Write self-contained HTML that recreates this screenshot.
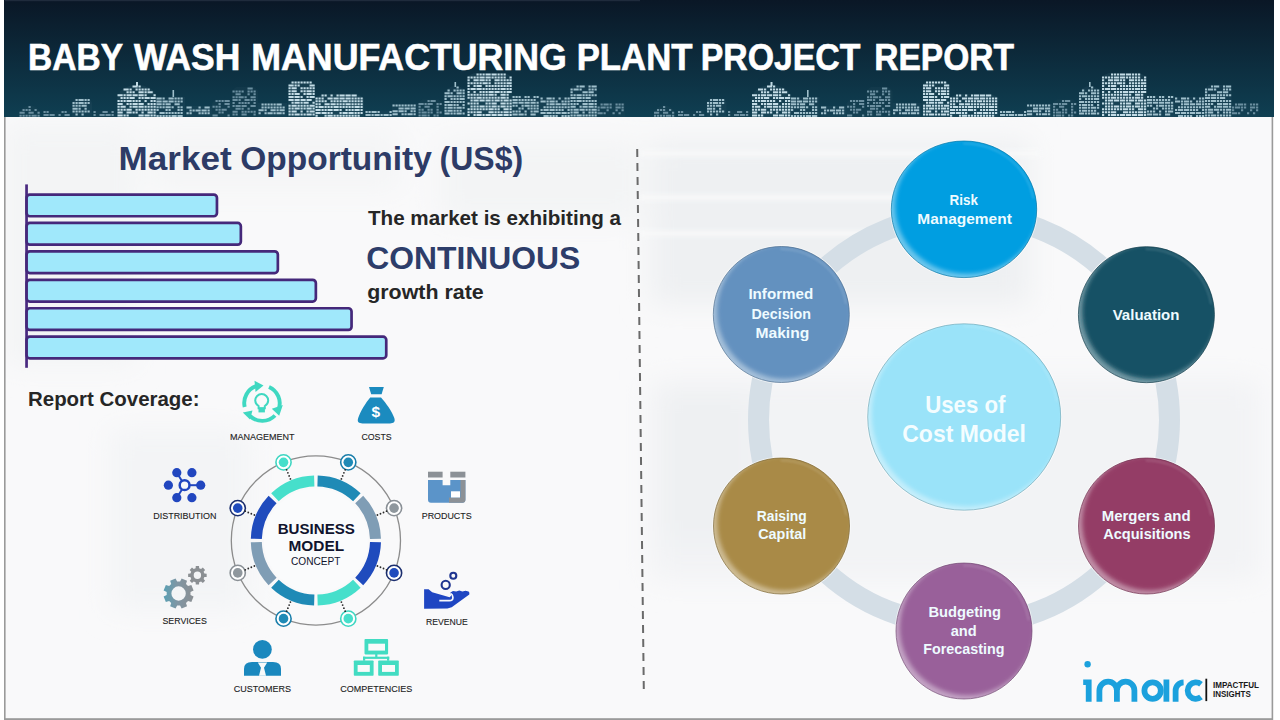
<!DOCTYPE html>
<html><head><meta charset="utf-8">
<style>
html,body{margin:0;padding:0;width:1280px;height:720px;overflow:hidden;background:#fff;}
svg{position:absolute;left:0;top:0;display:block;}
text{font-family:"Liberation Sans",sans-serif;}
</style></head>
<body>
<svg width="1280" height="720" viewBox="0 0 1280 720">
<defs>
  <filter id="blur2" x="-20%" y="-20%" width="140%" height="140%"><feGaussianBlur stdDeviation="2.2"/></filter>
  <filter id="blur1" x="-20%" y="-20%" width="140%" height="140%"><feGaussianBlur stdDeviation="1.3"/></filter>
  <clipPath id="bodyclip"><rect x="5" y="117" width="1268" height="602"/></clipPath>
  <filter id="soft" x="-20%" y="-20%" width="140%" height="140%"><feGaussianBlur stdDeviation="14"/></filter>
  <filter id="soft2" x="-20%" y="-200%" width="140%" height="500%"><feGaussianBlur stdDeviation="2"/></filter>
  <linearGradient id="hdr" x1="0" y1="0" x2="0" y2="1">
    <stop offset="0" stop-color="#0a1726"/>
    <stop offset="1" stop-color="#0f3f52"/>
  </linearGradient>
  <g id="sky">
<path d="M19 117 L19.0 115.4 L20.8 109.9 L22.7 108.0 L24.5 106.8 L26.3 106.1 L28.2 105.6 L30.0 105.5 L31.8 105.6 L33.7 106.1 L35.5 106.8 L37.3 108.0 L39.2 109.9 L41.0 115.4 L41 117Z" fill="#234656" opacity="0.25"/>
<path d="M43 117 L43.0 110.5 L45.2 110.5 L47.5 110.5 L49.8 110.5 L52.0 110.5 L54.2 110.5 L56.5 110.5 L58.8 110.5 L61.0 110.5 L63.2 110.5 L65.5 110.5 L67.8 110.5 L70.0 110.5 L70 117Z" fill="#234656" opacity="0.25"/>
<path d="M72 117 L72.0 102.5 L73.7 99.9 L75.3 98.6 L77.0 98.5 L78.7 98.5 L80.3 98.5 L82.0 98.5 L83.7 98.5 L85.3 98.5 L87.0 98.5 L88.7 98.6 L90.3 99.9 L92.0 102.5 L92 117Z" fill="#2b5062" opacity="0.25"/>
<path d="M93 117 L93.0 110.5 L94.9 110.5 L96.8 110.5 L98.8 110.5 L100.7 110.5 L102.6 110.5 L104.5 110.5 L106.4 110.5 L108.3 110.5 L110.2 110.5 L112.2 110.5 L114.1 110.5 L116.0 110.5 L116 117Z" fill="#234656" opacity="0.25"/>
<path d="M117 117 L117.0 99.0 L120.3 91.3 L123.7 88.6 L127.0 86.9 L130.3 85.8 L133.7 85.2 L137.0 85.0 L140.3 85.2 L143.7 85.8 L147.0 86.9 L150.3 88.6 L153.7 91.3 L157.0 99.0 L157 117Z" fill="#335a6b" opacity="0.25"/>
<path d="M156 117 L156.0 97.0 L158.4 97.0 L160.8 97.0 L163.2 97.0 L165.7 97.0 L168.1 97.0 L170.5 97.0 L172.9 97.0 L175.3 97.0 L177.8 97.0 L180.2 97.0 L182.6 97.0 L185.0 97.0 L185 117Z" fill="#2b5062" opacity="0.25"/>
<path d="M186 117 L186.0 106.0 L188.2 106.0 L190.3 106.0 L192.5 106.0 L194.7 106.0 L196.8 106.0 L199.0 106.0 L201.2 106.0 L203.3 106.0 L205.5 106.0 L207.7 106.0 L209.8 106.0 L212.0 106.0 L212 117Z" fill="#2b5062" opacity="0.25"/>
<path d="M212 117 L212.0 103.5 L213.7 100.9 L215.3 99.6 L217.0 99.5 L218.7 99.5 L220.3 99.5 L222.0 99.5 L223.7 99.5 L225.3 99.5 L227.0 99.5 L228.7 99.6 L230.3 100.9 L232.0 103.5 L232 117Z" fill="#234656" opacity="0.25"/>
<path d="M232 117 L232.0 91.0 L234.2 88.4 L236.3 87.1 L238.5 87.0 L240.7 87.0 L242.8 87.0 L245.0 87.0 L247.2 87.0 L249.3 87.0 L251.5 87.0 L253.7 87.1 L255.8 88.4 L258.0 91.0 L258 117Z" fill="#234656" opacity="0.25"/>
<path d="M258 117 L258.0 103.0 L260.4 103.0 L262.8 103.0 L265.2 103.0 L267.7 103.0 L270.1 103.0 L272.5 103.0 L274.9 103.0 L277.3 103.0 L279.8 103.0 L282.2 103.0 L284.6 103.0 L287.0 103.0 L287 117Z" fill="#2b5062" opacity="0.25"/>
<path d="M288 117 L288.0 85.0 L290.2 82.4 L292.5 81.1 L294.8 81.0 L297.0 81.0 L299.2 81.0 L301.5 81.0 L303.8 81.0 L306.0 81.0 L308.2 81.0 L310.5 81.1 L312.8 82.4 L315.0 85.0 L315 117Z" fill="#335a6b" opacity="0.25"/>
<path d="M315 117 L315.0 98.0 L319.1 95.4 L323.2 94.1 L327.2 94.0 L331.3 94.0 L335.4 94.0 L339.5 94.0 L343.6 94.0 L347.7 94.0 L351.8 94.0 L355.8 94.1 L359.9 95.4 L364.0 98.0 L364 117Z" fill="#335a6b" opacity="0.25"/>
<path d="M365 117 L365.0 110.5 L367.2 110.5 L369.5 110.5 L371.8 110.5 L374.0 110.5 L376.2 110.5 L378.5 110.5 L380.8 110.5 L383.0 110.5 L385.2 110.5 L387.5 110.5 L389.8 110.5 L392.0 110.5 L392 117Z" fill="#2b5062" opacity="0.25"/>
<path d="M392 117 L392.0 104.0 L394.2 104.0 L396.3 104.0 L398.5 104.0 L400.7 104.0 L402.8 104.0 L405.0 104.0 L407.2 104.0 L409.3 104.0 L411.5 104.0 L413.7 104.0 L415.8 104.0 L418.0 104.0 L418 117Z" fill="#2b5062" opacity="0.25"/>
<path d="M418 117 L418.0 103.5 L420.1 100.9 L422.2 99.6 L424.2 99.5 L426.3 99.5 L428.4 99.5 L430.5 99.5 L432.6 99.5 L434.7 99.5 L436.8 99.5 L438.8 99.6 L440.9 100.9 L443.0 103.5 L443 117Z" fill="#234656" opacity="0.25"/>
<path d="M444 117 L444.0 96.3 L445.9 90.6 L447.8 88.6 L449.8 87.4 L451.7 86.6 L453.6 86.1 L455.5 86.0 L457.4 86.1 L459.3 86.6 L461.2 87.4 L463.2 88.6 L465.1 90.6 L467.0 96.3 L467 117Z" fill="#2b5062" opacity="0.25"/>
<path d="M467 117 L467.0 77.0 L470.8 74.4 L474.5 73.1 L478.2 73.0 L482.0 73.0 L485.8 73.0 L489.5 73.0 L493.2 73.0 L497.0 73.0 L500.8 73.0 L504.5 73.1 L508.2 74.4 L512.0 77.0 L512 117Z" fill="#335a6b" opacity="0.25"/>
<path d="M512 117 L512.0 95.5 L514.3 95.5 L516.7 95.5 L519.0 95.5 L521.3 95.5 L523.7 95.5 L526.0 95.5 L528.3 95.5 L530.7 95.5 L533.0 95.5 L535.3 95.5 L537.7 95.5 L540.0 95.5 L540 117Z" fill="#2b5062" opacity="0.25"/>
<path d="M540 117 L540.0 97.0 L542.5 97.0 L545.0 97.0 L547.5 97.0 L550.0 97.0 L552.5 97.0 L555.0 97.0 L557.5 97.0 L560.0 97.0 L562.5 97.0 L565.0 97.0 L567.5 97.0 L570.0 97.0 L570 117Z" fill="#2b5062" opacity="0.25"/>
<path d="M570 117 L570.0 89.0 L572.2 86.4 L574.5 85.1 L576.8 85.0 L579.0 85.0 L581.2 85.0 L583.5 85.0 L585.8 85.0 L588.0 85.0 L590.2 85.0 L592.5 85.1 L594.8 86.4 L597.0 89.0 L597 117Z" fill="#2b5062" opacity="0.25"/>
<path d="M597 117 L597.0 103.0 L599.3 103.0 L601.7 103.0 L604.0 103.0 L606.3 103.0 L608.7 103.0 L611.0 103.0 L613.3 103.0 L615.7 103.0 L618.0 103.0 L620.3 103.0 L622.7 103.0 L625.0 103.0 L625 117Z" fill="#234656" opacity="0.25"/>
<path d="M28.5 106.0h2.2v2h-2.2zM22.5 108.9h2.2v2h-2.2zM25.5 108.9h2.2v2h-2.2zM28.5 108.9h2.2v2h-2.2zM34.5 108.9h2.2v2h-2.2zM19.5 111.8h5.2v2h-5.2zM28.5 111.8h5.2v2h-5.2zM37.5 111.8h2.2v2h-2.2zM19.5 114.7h2.2v2h-2.2zM22.5 114.7h2.2v2h-2.2zM25.5 114.7h2.2v2h-2.2zM28.5 114.7h2.2v2h-2.2zM31.5 114.7h5.2v2h-5.2zM37.5 114.7h2.2v2h-2.2zM43.5 111.0h2.2v2h-2.2zM46.5 111.0h2.2v2h-2.2zM61.5 111.0h2.2v2h-2.2zM64.5 111.0h2.2v2h-2.2zM43.5 113.9h5.2v2h-5.2zM49.5 113.9h5.2v2h-5.2zM58.5 113.9h2.2v2h-2.2zM64.5 113.9h5.2v2h-5.2zM93.5 111.0h2.2v2h-2.2zM102.5 111.0h5.2v2h-5.2zM111.5 111.0h2.2v2h-2.2zM93.5 113.9h2.2v2h-2.2zM99.5 113.9h5.2v2h-5.2zM105.5 113.9h5.2v2h-5.2zM111.5 113.9h2.2v2h-2.2zM215.5 100.0h2.2v2h-2.2zM218.5 100.0h2.2v2h-2.2zM221.5 100.0h2.2v2h-2.2zM224.5 100.0h5.2v2h-5.2zM218.5 102.9h2.2v2h-2.2zM224.5 102.9h5.2v2h-5.2zM212.5 105.8h2.2v2h-2.2zM215.5 105.8h2.2v2h-2.2zM218.5 105.8h2.2v2h-2.2zM227.5 105.8h2.2v2h-2.2zM215.5 108.7h2.2v2h-2.2zM218.5 108.7h2.2v2h-2.2zM221.5 108.7h5.2v2h-5.2zM218.5 111.6h2.2v2h-2.2zM221.5 111.6h2.2v2h-2.2zM212.5 114.5h5.2v2h-5.2zM227.5 114.5h2.2v2h-2.2zM247.5 87.5h5.2v2h-5.2zM232.5 90.4h2.2v2h-2.2zM235.5 90.4h2.2v2h-2.2zM238.5 90.4h2.2v2h-2.2zM241.5 90.4h2.2v2h-2.2zM247.5 90.4h2.2v2h-2.2zM250.5 90.4h2.2v2h-2.2zM253.5 90.4h2.2v2h-2.2zM235.5 93.3h5.2v2h-5.2zM247.5 93.3h2.2v2h-2.2zM253.5 93.3h2.2v2h-2.2zM232.5 96.2h2.2v2h-2.2zM235.5 96.2h2.2v2h-2.2zM238.5 96.2h5.2v2h-5.2zM244.5 96.2h2.2v2h-2.2zM250.5 96.2h5.2v2h-5.2zM232.5 99.1h5.2v2h-5.2zM238.5 99.1h2.2v2h-2.2zM244.5 99.1h5.2v2h-5.2zM250.5 99.1h2.2v2h-2.2zM253.5 99.1h2.2v2h-2.2zM232.5 102.0h2.2v2h-2.2zM238.5 102.0h2.2v2h-2.2zM241.5 102.0h2.2v2h-2.2zM244.5 102.0h2.2v2h-2.2zM247.5 102.0h2.2v2h-2.2zM253.5 102.0h2.2v2h-2.2zM232.5 104.9h2.2v2h-2.2zM235.5 104.9h5.2v2h-5.2zM241.5 104.9h5.2v2h-5.2zM250.5 104.9h5.2v2h-5.2zM235.5 107.8h5.2v2h-5.2zM241.5 107.8h2.2v2h-2.2zM247.5 107.8h2.2v2h-2.2zM232.5 110.7h5.2v2h-5.2zM241.5 110.7h2.2v2h-2.2zM244.5 110.7h2.2v2h-2.2zM247.5 110.7h2.2v2h-2.2zM250.5 110.7h2.2v2h-2.2zM253.5 110.7h2.2v2h-2.2zM232.5 113.6h2.2v2h-2.2zM235.5 113.6h2.2v2h-2.2zM241.5 113.6h5.2v2h-5.2zM253.5 113.6h2.2v2h-2.2zM427.5 100.0h2.2v2h-2.2zM430.5 100.0h5.2v2h-5.2zM418.5 102.9h5.2v2h-5.2zM424.5 102.9h2.2v2h-2.2zM427.5 102.9h5.2v2h-5.2zM436.5 102.9h2.2v2h-2.2zM439.5 102.9h2.2v2h-2.2zM418.5 105.8h2.2v2h-2.2zM424.5 105.8h5.2v2h-5.2zM436.5 105.8h2.2v2h-2.2zM418.5 108.7h2.2v2h-2.2zM421.5 108.7h2.2v2h-2.2zM427.5 108.7h2.2v2h-2.2zM430.5 108.7h2.2v2h-2.2zM436.5 108.7h2.2v2h-2.2zM418.5 111.6h2.2v2h-2.2zM421.5 111.6h5.2v2h-5.2zM427.5 111.6h2.2v2h-2.2zM430.5 111.6h2.2v2h-2.2zM436.5 111.6h2.2v2h-2.2zM439.5 111.6h2.2v2h-2.2zM418.5 114.5h2.2v2h-2.2zM421.5 114.5h5.2v2h-5.2zM427.5 114.5h2.2v2h-2.2zM433.5 114.5h2.2v2h-2.2zM436.5 114.5h2.2v2h-2.2zM600.5 103.5h2.2v2h-2.2zM603.5 103.5h5.2v2h-5.2zM609.5 103.5h2.2v2h-2.2zM615.5 103.5h2.2v2h-2.2zM618.5 103.5h2.2v2h-2.2zM621.5 103.5h2.2v2h-2.2zM597.5 106.4h2.2v2h-2.2zM600.5 106.4h5.2v2h-5.2zM606.5 106.4h2.2v2h-2.2zM609.5 106.4h2.2v2h-2.2zM615.5 106.4h5.2v2h-5.2zM621.5 106.4h2.2v2h-2.2zM597.5 109.3h2.2v2h-2.2zM606.5 109.3h2.2v2h-2.2zM615.5 109.3h2.2v2h-2.2zM621.5 109.3h2.2v2h-2.2zM597.5 112.2h5.2v2h-5.2zM603.5 112.2h2.2v2h-2.2zM612.5 112.2h2.2v2h-2.2zM618.5 112.2h2.2v2h-2.2z" fill="#6b8fa0"/>
<path d="M75.5 99.0h2.2v2h-2.2zM78.5 99.0h5.2v2h-5.2zM84.5 99.0h2.2v2h-2.2zM87.5 99.0h2.2v2h-2.2zM72.5 101.9h2.2v2h-2.2zM75.5 101.9h2.2v2h-2.2zM78.5 101.9h5.2v2h-5.2zM84.5 101.9h2.2v2h-2.2zM87.5 101.9h2.2v2h-2.2zM72.5 104.8h2.2v2h-2.2zM75.5 104.8h2.2v2h-2.2zM78.5 104.8h2.2v2h-2.2zM81.5 104.8h5.2v2h-5.2zM72.5 107.7h5.2v2h-5.2zM78.5 107.7h2.2v2h-2.2zM84.5 107.7h2.2v2h-2.2zM72.5 110.6h2.2v2h-2.2zM75.5 110.6h2.2v2h-2.2zM78.5 110.6h2.2v2h-2.2zM81.5 110.6h2.2v2h-2.2zM84.5 110.6h2.2v2h-2.2zM87.5 110.6h2.2v2h-2.2zM75.5 113.5h2.2v2h-2.2zM81.5 113.5h2.2v2h-2.2zM156.5 97.5h5.2v2h-5.2zM162.5 97.5h2.2v2h-2.2zM168.5 97.5h5.2v2h-5.2zM174.5 97.5h2.2v2h-2.2zM177.5 97.5h2.2v2h-2.2zM180.5 97.5h2.2v2h-2.2zM156.5 100.4h5.2v2h-5.2zM162.5 100.4h5.2v2h-5.2zM168.5 100.4h5.2v2h-5.2zM174.5 100.4h2.2v2h-2.2zM177.5 100.4h2.2v2h-2.2zM180.5 100.4h2.2v2h-2.2zM156.5 103.3h5.2v2h-5.2zM162.5 103.3h2.2v2h-2.2zM165.5 103.3h5.2v2h-5.2zM174.5 103.3h5.2v2h-5.2zM156.5 106.2h2.2v2h-2.2zM159.5 106.2h2.2v2h-2.2zM162.5 106.2h2.2v2h-2.2zM165.5 106.2h5.2v2h-5.2zM171.5 106.2h2.2v2h-2.2zM177.5 106.2h2.2v2h-2.2zM180.5 106.2h2.2v2h-2.2zM156.5 109.1h2.2v2h-2.2zM165.5 109.1h2.2v2h-2.2zM168.5 109.1h2.2v2h-2.2zM177.5 109.1h2.2v2h-2.2zM180.5 109.1h2.2v2h-2.2zM159.5 112.0h5.2v2h-5.2zM165.5 112.0h2.2v2h-2.2zM168.5 112.0h2.2v2h-2.2zM171.5 112.0h2.2v2h-2.2zM174.5 112.0h2.2v2h-2.2zM177.5 112.0h2.2v2h-2.2zM180.5 112.0h2.2v2h-2.2zM156.5 114.9h2.2v2h-2.2zM159.5 114.9h2.2v2h-2.2zM162.5 114.9h2.2v2h-2.2zM165.5 114.9h2.2v2h-2.2zM168.5 114.9h2.2v2h-2.2zM171.5 114.9h5.2v2h-5.2zM177.5 114.9h5.2v2h-5.2zM186.5 106.5h5.2v2h-5.2zM198.5 106.5h2.2v2h-2.2zM204.5 106.5h5.2v2h-5.2zM189.5 109.4h2.2v2h-2.2zM192.5 109.4h2.2v2h-2.2zM195.5 109.4h5.2v2h-5.2zM201.5 109.4h5.2v2h-5.2zM207.5 109.4h2.2v2h-2.2zM186.5 112.3h2.2v2h-2.2zM189.5 112.3h2.2v2h-2.2zM198.5 112.3h2.2v2h-2.2zM201.5 112.3h2.2v2h-2.2zM204.5 112.3h2.2v2h-2.2zM207.5 112.3h2.2v2h-2.2zM261.5 103.5h2.2v2h-2.2zM264.5 103.5h2.2v2h-2.2zM267.5 103.5h2.2v2h-2.2zM270.5 103.5h2.2v2h-2.2zM273.5 103.5h2.2v2h-2.2zM276.5 103.5h5.2v2h-5.2zM261.5 106.4h2.2v2h-2.2zM264.5 106.4h2.2v2h-2.2zM267.5 106.4h2.2v2h-2.2zM270.5 106.4h2.2v2h-2.2zM273.5 106.4h2.2v2h-2.2zM276.5 106.4h2.2v2h-2.2zM279.5 106.4h2.2v2h-2.2zM282.5 106.4h2.2v2h-2.2zM258.5 109.3h5.2v2h-5.2zM264.5 109.3h2.2v2h-2.2zM270.5 109.3h5.2v2h-5.2zM276.5 109.3h2.2v2h-2.2zM279.5 109.3h5.2v2h-5.2zM258.5 112.2h2.2v2h-2.2zM264.5 112.2h2.2v2h-2.2zM267.5 112.2h5.2v2h-5.2zM273.5 112.2h2.2v2h-2.2zM276.5 112.2h5.2v2h-5.2zM282.5 112.2h2.2v2h-2.2zM365.5 111.0h2.2v2h-2.2zM368.5 111.0h2.2v2h-2.2zM371.5 111.0h5.2v2h-5.2zM377.5 111.0h2.2v2h-2.2zM389.5 111.0h2.2v2h-2.2zM365.5 113.9h5.2v2h-5.2zM371.5 113.9h2.2v2h-2.2zM374.5 113.9h5.2v2h-5.2zM380.5 113.9h2.2v2h-2.2zM383.5 113.9h5.2v2h-5.2zM389.5 113.9h2.2v2h-2.2zM392.5 104.5h2.2v2h-2.2zM395.5 104.5h2.2v2h-2.2zM398.5 104.5h2.2v2h-2.2zM401.5 104.5h2.2v2h-2.2zM404.5 104.5h2.2v2h-2.2zM407.5 104.5h2.2v2h-2.2zM410.5 104.5h2.2v2h-2.2zM413.5 104.5h2.2v2h-2.2zM398.5 107.4h5.2v2h-5.2zM404.5 107.4h5.2v2h-5.2zM410.5 107.4h5.2v2h-5.2zM392.5 110.3h5.2v2h-5.2zM398.5 110.3h5.2v2h-5.2zM404.5 110.3h2.2v2h-2.2zM410.5 110.3h2.2v2h-2.2zM413.5 110.3h2.2v2h-2.2zM392.5 113.2h5.2v2h-5.2zM401.5 113.2h2.2v2h-2.2zM404.5 113.2h2.2v2h-2.2zM407.5 113.2h5.2v2h-5.2zM413.5 113.2h2.2v2h-2.2zM456.5 86.5h2.2v2h-2.2zM447.5 89.4h2.2v2h-2.2zM453.5 89.4h2.2v2h-2.2zM456.5 89.4h2.2v2h-2.2zM459.5 89.4h2.2v2h-2.2zM462.5 89.4h2.2v2h-2.2zM444.5 92.3h5.2v2h-5.2zM450.5 92.3h2.2v2h-2.2zM456.5 92.3h5.2v2h-5.2zM462.5 92.3h2.2v2h-2.2zM444.5 95.2h2.2v2h-2.2zM447.5 95.2h5.2v2h-5.2zM453.5 95.2h2.2v2h-2.2zM456.5 95.2h2.2v2h-2.2zM459.5 95.2h2.2v2h-2.2zM462.5 95.2h2.2v2h-2.2zM444.5 98.1h2.2v2h-2.2zM450.5 98.1h2.2v2h-2.2zM453.5 98.1h2.2v2h-2.2zM456.5 98.1h2.2v2h-2.2zM459.5 98.1h5.2v2h-5.2zM444.5 101.0h5.2v2h-5.2zM450.5 101.0h2.2v2h-2.2zM453.5 101.0h2.2v2h-2.2zM456.5 101.0h2.2v2h-2.2zM459.5 101.0h2.2v2h-2.2zM462.5 101.0h2.2v2h-2.2zM444.5 103.9h2.2v2h-2.2zM447.5 103.9h5.2v2h-5.2zM453.5 103.9h2.2v2h-2.2zM456.5 103.9h2.2v2h-2.2zM462.5 103.9h2.2v2h-2.2zM444.5 106.8h2.2v2h-2.2zM447.5 106.8h5.2v2h-5.2zM453.5 106.8h2.2v2h-2.2zM456.5 106.8h5.2v2h-5.2zM462.5 106.8h2.2v2h-2.2zM444.5 109.7h2.2v2h-2.2zM447.5 109.7h5.2v2h-5.2zM453.5 109.7h2.2v2h-2.2zM456.5 109.7h2.2v2h-2.2zM459.5 109.7h2.2v2h-2.2zM444.5 112.6h5.2v2h-5.2zM450.5 112.6h2.2v2h-2.2zM453.5 112.6h2.2v2h-2.2zM456.5 112.6h5.2v2h-5.2zM462.5 112.6h2.2v2h-2.2zM512.5 96.0h2.2v2h-2.2zM515.5 96.0h2.2v2h-2.2zM518.5 96.0h2.2v2h-2.2zM524.5 96.0h2.2v2h-2.2zM527.5 96.0h2.2v2h-2.2zM533.5 96.0h2.2v2h-2.2zM536.5 96.0h2.2v2h-2.2zM512.5 98.9h5.2v2h-5.2zM518.5 98.9h2.2v2h-2.2zM521.5 98.9h2.2v2h-2.2zM524.5 98.9h2.2v2h-2.2zM527.5 98.9h2.2v2h-2.2zM530.5 98.9h2.2v2h-2.2zM533.5 98.9h2.2v2h-2.2zM512.5 101.8h5.2v2h-5.2zM518.5 101.8h5.2v2h-5.2zM524.5 101.8h5.2v2h-5.2zM530.5 101.8h5.2v2h-5.2zM536.5 101.8h2.2v2h-2.2zM512.5 104.7h2.2v2h-2.2zM515.5 104.7h2.2v2h-2.2zM521.5 104.7h2.2v2h-2.2zM524.5 104.7h5.2v2h-5.2zM530.5 104.7h2.2v2h-2.2zM533.5 104.7h2.2v2h-2.2zM536.5 104.7h2.2v2h-2.2zM518.5 107.6h2.2v2h-2.2zM521.5 107.6h2.2v2h-2.2zM527.5 107.6h2.2v2h-2.2zM530.5 107.6h2.2v2h-2.2zM533.5 107.6h2.2v2h-2.2zM536.5 107.6h2.2v2h-2.2zM512.5 110.5h2.2v2h-2.2zM515.5 110.5h2.2v2h-2.2zM518.5 110.5h2.2v2h-2.2zM524.5 110.5h2.2v2h-2.2zM530.5 110.5h2.2v2h-2.2zM533.5 110.5h5.2v2h-5.2zM512.5 113.4h5.2v2h-5.2zM518.5 113.4h5.2v2h-5.2zM524.5 113.4h2.2v2h-2.2zM530.5 113.4h5.2v2h-5.2zM540.5 97.5h2.2v2h-2.2zM546.5 97.5h5.2v2h-5.2zM552.5 97.5h2.2v2h-2.2zM558.5 97.5h2.2v2h-2.2zM564.5 97.5h2.2v2h-2.2zM567.5 97.5h2.2v2h-2.2zM540.5 100.4h5.2v2h-5.2zM546.5 100.4h2.2v2h-2.2zM549.5 100.4h5.2v2h-5.2zM555.5 100.4h2.2v2h-2.2zM561.5 100.4h2.2v2h-2.2zM564.5 100.4h2.2v2h-2.2zM567.5 100.4h2.2v2h-2.2zM546.5 103.3h2.2v2h-2.2zM549.5 103.3h5.2v2h-5.2zM555.5 103.3h5.2v2h-5.2zM561.5 103.3h5.2v2h-5.2zM567.5 103.3h2.2v2h-2.2zM543.5 106.2h2.2v2h-2.2zM546.5 106.2h2.2v2h-2.2zM549.5 106.2h2.2v2h-2.2zM552.5 106.2h2.2v2h-2.2zM555.5 106.2h2.2v2h-2.2zM558.5 106.2h2.2v2h-2.2zM561.5 106.2h2.2v2h-2.2zM564.5 106.2h2.2v2h-2.2zM567.5 106.2h2.2v2h-2.2zM540.5 109.1h2.2v2h-2.2zM543.5 109.1h5.2v2h-5.2zM549.5 109.1h5.2v2h-5.2zM555.5 109.1h2.2v2h-2.2zM558.5 109.1h2.2v2h-2.2zM561.5 109.1h2.2v2h-2.2zM567.5 109.1h2.2v2h-2.2zM540.5 112.0h5.2v2h-5.2zM546.5 112.0h5.2v2h-5.2zM552.5 112.0h2.2v2h-2.2zM555.5 112.0h5.2v2h-5.2zM561.5 112.0h5.2v2h-5.2zM567.5 112.0h2.2v2h-2.2zM543.5 114.9h5.2v2h-5.2zM549.5 114.9h2.2v2h-2.2zM552.5 114.9h2.2v2h-2.2zM555.5 114.9h2.2v2h-2.2zM561.5 114.9h2.2v2h-2.2zM564.5 114.9h2.2v2h-2.2zM567.5 114.9h2.2v2h-2.2zM576.5 85.5h2.2v2h-2.2zM579.5 85.5h5.2v2h-5.2zM588.5 85.5h2.2v2h-2.2zM591.5 85.5h5.2v2h-5.2zM570.5 88.4h2.2v2h-2.2zM573.5 88.4h5.2v2h-5.2zM579.5 88.4h2.2v2h-2.2zM588.5 88.4h2.2v2h-2.2zM591.5 88.4h2.2v2h-2.2zM594.5 88.4h2.2v2h-2.2zM570.5 91.3h2.2v2h-2.2zM582.5 91.3h5.2v2h-5.2zM588.5 91.3h5.2v2h-5.2zM570.5 94.2h2.2v2h-2.2zM573.5 94.2h2.2v2h-2.2zM576.5 94.2h5.2v2h-5.2zM582.5 94.2h2.2v2h-2.2zM585.5 94.2h2.2v2h-2.2zM588.5 94.2h2.2v2h-2.2zM591.5 94.2h2.2v2h-2.2zM594.5 94.2h2.2v2h-2.2zM570.5 97.1h5.2v2h-5.2zM576.5 97.1h5.2v2h-5.2zM582.5 97.1h2.2v2h-2.2zM585.5 97.1h5.2v2h-5.2zM570.5 100.0h2.2v2h-2.2zM573.5 100.0h2.2v2h-2.2zM576.5 100.0h5.2v2h-5.2zM582.5 100.0h2.2v2h-2.2zM585.5 100.0h2.2v2h-2.2zM588.5 100.0h2.2v2h-2.2zM591.5 100.0h2.2v2h-2.2zM594.5 100.0h2.2v2h-2.2zM570.5 102.9h2.2v2h-2.2zM573.5 102.9h2.2v2h-2.2zM576.5 102.9h2.2v2h-2.2zM582.5 102.9h5.2v2h-5.2zM588.5 102.9h5.2v2h-5.2zM594.5 102.9h2.2v2h-2.2zM570.5 105.8h5.2v2h-5.2zM579.5 105.8h2.2v2h-2.2zM582.5 105.8h5.2v2h-5.2zM588.5 105.8h5.2v2h-5.2zM594.5 105.8h2.2v2h-2.2zM570.5 108.7h2.2v2h-2.2zM573.5 108.7h5.2v2h-5.2zM579.5 108.7h5.2v2h-5.2zM585.5 108.7h2.2v2h-2.2zM588.5 108.7h2.2v2h-2.2zM591.5 108.7h5.2v2h-5.2zM570.5 111.6h2.2v2h-2.2zM573.5 111.6h5.2v2h-5.2zM582.5 111.6h2.2v2h-2.2zM588.5 111.6h2.2v2h-2.2zM591.5 111.6h2.2v2h-2.2zM594.5 111.6h2.2v2h-2.2zM570.5 114.5h2.2v2h-2.2zM573.5 114.5h2.2v2h-2.2zM576.5 114.5h5.2v2h-5.2zM582.5 114.5h2.2v2h-2.2zM585.5 114.5h2.2v2h-2.2zM588.5 114.5h2.2v2h-2.2zM591.5 114.5h2.2v2h-2.2zM594.5 114.5h2.2v2h-2.2z" fill="#9fbfcb"/>
<path d="M132.5 85.5h5.2v2h-5.2zM138.5 85.5h2.2v2h-2.2zM123.5 88.4h5.2v2h-5.2zM129.5 88.4h2.2v2h-2.2zM135.5 88.4h2.2v2h-2.2zM138.5 88.4h2.2v2h-2.2zM141.5 88.4h2.2v2h-2.2zM144.5 88.4h2.2v2h-2.2zM147.5 88.4h2.2v2h-2.2zM126.5 91.3h2.2v2h-2.2zM129.5 91.3h2.2v2h-2.2zM132.5 91.3h2.2v2h-2.2zM138.5 91.3h5.2v2h-5.2zM144.5 91.3h2.2v2h-2.2zM147.5 91.3h5.2v2h-5.2zM117.5 94.2h5.2v2h-5.2zM123.5 94.2h2.2v2h-2.2zM126.5 94.2h5.2v2h-5.2zM132.5 94.2h5.2v2h-5.2zM138.5 94.2h5.2v2h-5.2zM144.5 94.2h2.2v2h-2.2zM153.5 94.2h2.2v2h-2.2zM120.5 97.1h2.2v2h-2.2zM123.5 97.1h2.2v2h-2.2zM126.5 97.1h2.2v2h-2.2zM129.5 97.1h5.2v2h-5.2zM138.5 97.1h2.2v2h-2.2zM141.5 97.1h2.2v2h-2.2zM144.5 97.1h5.2v2h-5.2zM150.5 97.1h5.2v2h-5.2zM117.5 100.0h2.2v2h-2.2zM120.5 100.0h2.2v2h-2.2zM123.5 100.0h2.2v2h-2.2zM126.5 100.0h5.2v2h-5.2zM132.5 100.0h2.2v2h-2.2zM135.5 100.0h2.2v2h-2.2zM138.5 100.0h2.2v2h-2.2zM144.5 100.0h2.2v2h-2.2zM150.5 100.0h2.2v2h-2.2zM153.5 100.0h2.2v2h-2.2zM117.5 102.9h5.2v2h-5.2zM126.5 102.9h2.2v2h-2.2zM129.5 102.9h2.2v2h-2.2zM132.5 102.9h5.2v2h-5.2zM138.5 102.9h5.2v2h-5.2zM147.5 102.9h2.2v2h-2.2zM150.5 102.9h2.2v2h-2.2zM153.5 102.9h2.2v2h-2.2zM117.5 105.8h2.2v2h-2.2zM120.5 105.8h5.2v2h-5.2zM129.5 105.8h2.2v2h-2.2zM132.5 105.8h5.2v2h-5.2zM138.5 105.8h5.2v2h-5.2zM144.5 105.8h2.2v2h-2.2zM147.5 105.8h2.2v2h-2.2zM150.5 105.8h2.2v2h-2.2zM153.5 105.8h2.2v2h-2.2zM117.5 108.7h2.2v2h-2.2zM120.5 108.7h2.2v2h-2.2zM123.5 108.7h2.2v2h-2.2zM126.5 108.7h5.2v2h-5.2zM135.5 108.7h2.2v2h-2.2zM138.5 108.7h2.2v2h-2.2zM141.5 108.7h2.2v2h-2.2zM144.5 108.7h2.2v2h-2.2zM147.5 108.7h2.2v2h-2.2zM150.5 108.7h2.2v2h-2.2zM153.5 108.7h2.2v2h-2.2zM117.5 111.6h5.2v2h-5.2zM126.5 111.6h5.2v2h-5.2zM132.5 111.6h2.2v2h-2.2zM135.5 111.6h2.2v2h-2.2zM141.5 111.6h2.2v2h-2.2zM147.5 111.6h5.2v2h-5.2zM153.5 111.6h2.2v2h-2.2zM117.5 114.5h5.2v2h-5.2zM123.5 114.5h2.2v2h-2.2zM126.5 114.5h2.2v2h-2.2zM138.5 114.5h5.2v2h-5.2zM144.5 114.5h5.2v2h-5.2zM150.5 114.5h2.2v2h-2.2zM153.5 114.5h2.2v2h-2.2zM291.5 81.5h2.2v2h-2.2zM294.5 81.5h2.2v2h-2.2zM297.5 81.5h2.2v2h-2.2zM300.5 81.5h2.2v2h-2.2zM303.5 81.5h2.2v2h-2.2zM306.5 81.5h2.2v2h-2.2zM309.5 81.5h2.2v2h-2.2zM288.5 84.4h5.2v2h-5.2zM294.5 84.4h2.2v2h-2.2zM297.5 84.4h2.2v2h-2.2zM309.5 84.4h5.2v2h-5.2zM288.5 87.3h2.2v2h-2.2zM291.5 87.3h5.2v2h-5.2zM300.5 87.3h2.2v2h-2.2zM303.5 87.3h2.2v2h-2.2zM306.5 87.3h2.2v2h-2.2zM309.5 87.3h2.2v2h-2.2zM312.5 87.3h2.2v2h-2.2zM288.5 90.2h2.2v2h-2.2zM291.5 90.2h5.2v2h-5.2zM300.5 90.2h2.2v2h-2.2zM303.5 90.2h2.2v2h-2.2zM306.5 90.2h5.2v2h-5.2zM312.5 90.2h2.2v2h-2.2zM288.5 93.1h2.2v2h-2.2zM291.5 93.1h2.2v2h-2.2zM294.5 93.1h5.2v2h-5.2zM303.5 93.1h2.2v2h-2.2zM306.5 93.1h5.2v2h-5.2zM312.5 93.1h2.2v2h-2.2zM288.5 96.0h5.2v2h-5.2zM294.5 96.0h5.2v2h-5.2zM300.5 96.0h2.2v2h-2.2zM306.5 96.0h2.2v2h-2.2zM309.5 96.0h5.2v2h-5.2zM288.5 98.9h5.2v2h-5.2zM294.5 98.9h5.2v2h-5.2zM300.5 98.9h5.2v2h-5.2zM306.5 98.9h5.2v2h-5.2zM291.5 101.8h2.2v2h-2.2zM294.5 101.8h5.2v2h-5.2zM300.5 101.8h2.2v2h-2.2zM303.5 101.8h5.2v2h-5.2zM312.5 101.8h2.2v2h-2.2zM288.5 104.7h2.2v2h-2.2zM291.5 104.7h5.2v2h-5.2zM297.5 104.7h2.2v2h-2.2zM300.5 104.7h2.2v2h-2.2zM303.5 104.7h2.2v2h-2.2zM306.5 104.7h2.2v2h-2.2zM309.5 104.7h5.2v2h-5.2zM288.5 107.6h2.2v2h-2.2zM291.5 107.6h2.2v2h-2.2zM294.5 107.6h5.2v2h-5.2zM300.5 107.6h2.2v2h-2.2zM303.5 107.6h2.2v2h-2.2zM306.5 107.6h5.2v2h-5.2zM312.5 107.6h2.2v2h-2.2zM288.5 110.5h2.2v2h-2.2zM291.5 110.5h5.2v2h-5.2zM300.5 110.5h2.2v2h-2.2zM306.5 110.5h2.2v2h-2.2zM309.5 110.5h5.2v2h-5.2zM288.5 113.4h2.2v2h-2.2zM291.5 113.4h2.2v2h-2.2zM294.5 113.4h5.2v2h-5.2zM300.5 113.4h2.2v2h-2.2zM303.5 113.4h2.2v2h-2.2zM306.5 113.4h5.2v2h-5.2zM312.5 113.4h2.2v2h-2.2zM321.5 94.5h2.2v2h-2.2zM324.5 94.5h2.2v2h-2.2zM330.5 94.5h2.2v2h-2.2zM336.5 94.5h2.2v2h-2.2zM339.5 94.5h5.2v2h-5.2zM345.5 94.5h5.2v2h-5.2zM351.5 94.5h5.2v2h-5.2zM315.5 97.4h2.2v2h-2.2zM318.5 97.4h2.2v2h-2.2zM321.5 97.4h2.2v2h-2.2zM327.5 97.4h5.2v2h-5.2zM333.5 97.4h5.2v2h-5.2zM339.5 97.4h5.2v2h-5.2zM345.5 97.4h5.2v2h-5.2zM351.5 97.4h2.2v2h-2.2zM354.5 97.4h2.2v2h-2.2zM357.5 97.4h2.2v2h-2.2zM360.5 97.4h2.2v2h-2.2zM315.5 100.3h2.2v2h-2.2zM318.5 100.3h2.2v2h-2.2zM321.5 100.3h2.2v2h-2.2zM324.5 100.3h2.2v2h-2.2zM330.5 100.3h2.2v2h-2.2zM333.5 100.3h2.2v2h-2.2zM336.5 100.3h2.2v2h-2.2zM339.5 100.3h2.2v2h-2.2zM342.5 100.3h5.2v2h-5.2zM348.5 100.3h2.2v2h-2.2zM351.5 100.3h2.2v2h-2.2zM354.5 100.3h2.2v2h-2.2zM357.5 100.3h2.2v2h-2.2zM360.5 100.3h2.2v2h-2.2zM315.5 103.2h2.2v2h-2.2zM318.5 103.2h2.2v2h-2.2zM324.5 103.2h5.2v2h-5.2zM330.5 103.2h5.2v2h-5.2zM336.5 103.2h2.2v2h-2.2zM339.5 103.2h2.2v2h-2.2zM342.5 103.2h2.2v2h-2.2zM345.5 103.2h5.2v2h-5.2zM351.5 103.2h2.2v2h-2.2zM354.5 103.2h2.2v2h-2.2zM357.5 103.2h2.2v2h-2.2zM360.5 103.2h2.2v2h-2.2zM315.5 106.1h2.2v2h-2.2zM318.5 106.1h5.2v2h-5.2zM324.5 106.1h2.2v2h-2.2zM327.5 106.1h2.2v2h-2.2zM330.5 106.1h2.2v2h-2.2zM333.5 106.1h5.2v2h-5.2zM339.5 106.1h2.2v2h-2.2zM342.5 106.1h2.2v2h-2.2zM345.5 106.1h2.2v2h-2.2zM348.5 106.1h2.2v2h-2.2zM351.5 106.1h2.2v2h-2.2zM354.5 106.1h5.2v2h-5.2zM360.5 106.1h2.2v2h-2.2zM315.5 109.0h5.2v2h-5.2zM321.5 109.0h2.2v2h-2.2zM324.5 109.0h2.2v2h-2.2zM327.5 109.0h5.2v2h-5.2zM333.5 109.0h5.2v2h-5.2zM339.5 109.0h2.2v2h-2.2zM345.5 109.0h2.2v2h-2.2zM348.5 109.0h2.2v2h-2.2zM351.5 109.0h2.2v2h-2.2zM354.5 109.0h5.2v2h-5.2zM360.5 109.0h2.2v2h-2.2zM315.5 111.9h5.2v2h-5.2zM321.5 111.9h5.2v2h-5.2zM327.5 111.9h2.2v2h-2.2zM330.5 111.9h2.2v2h-2.2zM339.5 111.9h2.2v2h-2.2zM342.5 111.9h5.2v2h-5.2zM348.5 111.9h5.2v2h-5.2zM354.5 111.9h2.2v2h-2.2zM357.5 111.9h2.2v2h-2.2zM360.5 111.9h2.2v2h-2.2zM315.5 114.8h2.2v2h-2.2zM324.5 114.8h2.2v2h-2.2zM327.5 114.8h5.2v2h-5.2zM333.5 114.8h2.2v2h-2.2zM336.5 114.8h2.2v2h-2.2zM339.5 114.8h2.2v2h-2.2zM342.5 114.8h2.2v2h-2.2zM345.5 114.8h2.2v2h-2.2zM348.5 114.8h2.2v2h-2.2zM351.5 114.8h2.2v2h-2.2zM354.5 114.8h2.2v2h-2.2zM357.5 114.8h2.2v2h-2.2zM476.5 73.5h2.2v2h-2.2zM479.5 73.5h2.2v2h-2.2zM482.5 73.5h2.2v2h-2.2zM485.5 73.5h5.2v2h-5.2zM491.5 73.5h5.2v2h-5.2zM497.5 73.5h2.2v2h-2.2zM500.5 73.5h2.2v2h-2.2zM503.5 73.5h2.2v2h-2.2zM467.5 76.4h2.2v2h-2.2zM470.5 76.4h2.2v2h-2.2zM473.5 76.4h2.2v2h-2.2zM476.5 76.4h2.2v2h-2.2zM479.5 76.4h5.2v2h-5.2zM485.5 76.4h5.2v2h-5.2zM491.5 76.4h2.2v2h-2.2zM494.5 76.4h2.2v2h-2.2zM497.5 76.4h2.2v2h-2.2zM500.5 76.4h2.2v2h-2.2zM503.5 76.4h2.2v2h-2.2zM509.5 76.4h2.2v2h-2.2zM467.5 79.3h2.2v2h-2.2zM473.5 79.3h5.2v2h-5.2zM479.5 79.3h5.2v2h-5.2zM485.5 79.3h2.2v2h-2.2zM488.5 79.3h2.2v2h-2.2zM494.5 79.3h5.2v2h-5.2zM500.5 79.3h2.2v2h-2.2zM503.5 79.3h2.2v2h-2.2zM506.5 79.3h2.2v2h-2.2zM509.5 79.3h2.2v2h-2.2zM467.5 82.2h2.2v2h-2.2zM470.5 82.2h2.2v2h-2.2zM473.5 82.2h2.2v2h-2.2zM476.5 82.2h2.2v2h-2.2zM479.5 82.2h2.2v2h-2.2zM482.5 82.2h5.2v2h-5.2zM488.5 82.2h2.2v2h-2.2zM494.5 82.2h2.2v2h-2.2zM497.5 82.2h2.2v2h-2.2zM500.5 82.2h2.2v2h-2.2zM503.5 82.2h2.2v2h-2.2zM506.5 82.2h5.2v2h-5.2zM467.5 85.1h2.2v2h-2.2zM473.5 85.1h2.2v2h-2.2zM476.5 85.1h5.2v2h-5.2zM485.5 85.1h2.2v2h-2.2zM488.5 85.1h2.2v2h-2.2zM491.5 85.1h2.2v2h-2.2zM494.5 85.1h2.2v2h-2.2zM497.5 85.1h2.2v2h-2.2zM500.5 85.1h2.2v2h-2.2zM503.5 85.1h2.2v2h-2.2zM506.5 85.1h2.2v2h-2.2zM509.5 85.1h2.2v2h-2.2zM467.5 88.0h2.2v2h-2.2zM470.5 88.0h5.2v2h-5.2zM476.5 88.0h5.2v2h-5.2zM482.5 88.0h2.2v2h-2.2zM485.5 88.0h2.2v2h-2.2zM488.5 88.0h2.2v2h-2.2zM491.5 88.0h2.2v2h-2.2zM494.5 88.0h2.2v2h-2.2zM497.5 88.0h2.2v2h-2.2zM500.5 88.0h5.2v2h-5.2zM506.5 88.0h2.2v2h-2.2zM509.5 88.0h2.2v2h-2.2zM467.5 90.9h2.2v2h-2.2zM473.5 90.9h2.2v2h-2.2zM479.5 90.9h2.2v2h-2.2zM482.5 90.9h2.2v2h-2.2zM485.5 90.9h2.2v2h-2.2zM488.5 90.9h5.2v2h-5.2zM494.5 90.9h5.2v2h-5.2zM500.5 90.9h2.2v2h-2.2zM503.5 90.9h2.2v2h-2.2zM506.5 90.9h5.2v2h-5.2zM467.5 93.8h2.2v2h-2.2zM470.5 93.8h2.2v2h-2.2zM473.5 93.8h2.2v2h-2.2zM476.5 93.8h2.2v2h-2.2zM479.5 93.8h2.2v2h-2.2zM482.5 93.8h2.2v2h-2.2zM485.5 93.8h2.2v2h-2.2zM488.5 93.8h5.2v2h-5.2zM494.5 93.8h2.2v2h-2.2zM500.5 93.8h5.2v2h-5.2zM506.5 93.8h2.2v2h-2.2zM467.5 96.7h2.2v2h-2.2zM470.5 96.7h2.2v2h-2.2zM473.5 96.7h2.2v2h-2.2zM476.5 96.7h5.2v2h-5.2zM482.5 96.7h2.2v2h-2.2zM485.5 96.7h2.2v2h-2.2zM488.5 96.7h2.2v2h-2.2zM491.5 96.7h2.2v2h-2.2zM494.5 96.7h2.2v2h-2.2zM497.5 96.7h2.2v2h-2.2zM500.5 96.7h5.2v2h-5.2zM506.5 96.7h2.2v2h-2.2zM470.5 99.6h2.2v2h-2.2zM473.5 99.6h5.2v2h-5.2zM479.5 99.6h5.2v2h-5.2zM485.5 99.6h5.2v2h-5.2zM491.5 99.6h2.2v2h-2.2zM494.5 99.6h5.2v2h-5.2zM500.5 99.6h2.2v2h-2.2zM503.5 99.6h5.2v2h-5.2zM509.5 99.6h2.2v2h-2.2zM467.5 102.5h2.2v2h-2.2zM470.5 102.5h2.2v2h-2.2zM473.5 102.5h2.2v2h-2.2zM476.5 102.5h2.2v2h-2.2zM485.5 102.5h2.2v2h-2.2zM488.5 102.5h2.2v2h-2.2zM491.5 102.5h5.2v2h-5.2zM500.5 102.5h5.2v2h-5.2zM506.5 102.5h2.2v2h-2.2zM509.5 102.5h2.2v2h-2.2zM470.5 105.4h2.2v2h-2.2zM473.5 105.4h2.2v2h-2.2zM476.5 105.4h2.2v2h-2.2zM479.5 105.4h5.2v2h-5.2zM485.5 105.4h2.2v2h-2.2zM488.5 105.4h2.2v2h-2.2zM491.5 105.4h5.2v2h-5.2zM497.5 105.4h2.2v2h-2.2zM500.5 105.4h5.2v2h-5.2zM506.5 105.4h2.2v2h-2.2zM509.5 105.4h2.2v2h-2.2zM467.5 108.3h2.2v2h-2.2zM470.5 108.3h2.2v2h-2.2zM473.5 108.3h2.2v2h-2.2zM476.5 108.3h2.2v2h-2.2zM479.5 108.3h2.2v2h-2.2zM482.5 108.3h2.2v2h-2.2zM485.5 108.3h2.2v2h-2.2zM488.5 108.3h5.2v2h-5.2zM494.5 108.3h2.2v2h-2.2zM497.5 108.3h2.2v2h-2.2zM503.5 108.3h5.2v2h-5.2zM509.5 108.3h2.2v2h-2.2zM467.5 111.2h2.2v2h-2.2zM470.5 111.2h2.2v2h-2.2zM473.5 111.2h2.2v2h-2.2zM476.5 111.2h5.2v2h-5.2zM488.5 111.2h5.2v2h-5.2zM494.5 111.2h2.2v2h-2.2zM497.5 111.2h2.2v2h-2.2zM500.5 111.2h2.2v2h-2.2zM503.5 111.2h5.2v2h-5.2zM509.5 111.2h2.2v2h-2.2zM467.5 114.1h2.2v2h-2.2zM473.5 114.1h2.2v2h-2.2zM476.5 114.1h5.2v2h-5.2zM482.5 114.1h2.2v2h-2.2zM485.5 114.1h5.2v2h-5.2zM491.5 114.1h5.2v2h-5.2zM497.5 114.1h5.2v2h-5.2zM503.5 114.1h5.2v2h-5.2zM509.5 114.1h2.2v2h-2.2z" fill="#c3dce6"/>
<rect x="172.5" y="90" width="1.6" height="7" fill="#9fbfcb"/>
<rect x="454.5" y="82" width="1.6" height="5" fill="#9fbfcb"/>
<rect x="136" y="82" width="2" height="4" fill="#c3dce6"/>
</g>
</defs>

<!-- header -->
<rect x="4" y="0" width="1270" height="117" fill="url(#hdr)"/>
<use href="#sky"/>
<use href="#sky" transform="translate(634.5 0)"/>
<g font-size="36.5" font-weight="bold" fill="#ffffff" stroke="#ffffff" stroke-width="0.6">
  <text id="tw_BABY" x="28.0" y="69.6" textLength="95.0" lengthAdjust="spacingAndGlyphs">BABY</text>
  <text id="tw_WASH" x="134.0" y="69.6" textLength="106.3" lengthAdjust="spacingAndGlyphs">WASH</text>
  <text id="tw_MANUFACTURING" x="251.3" y="69.6" textLength="315.6" lengthAdjust="spacingAndGlyphs">MANUFACTURING</text>
  <text id="tw_PLANT" x="576.7" y="69.6" textLength="115.8" lengthAdjust="spacingAndGlyphs">PLANT</text>
  <text id="tw_PROJECT" x="700.7" y="69.6" textLength="159.7" lengthAdjust="spacingAndGlyphs">PROJECT</text>
  <text id="tw_REPORT" x="874.2" y="69.6" textLength="139.8" lengthAdjust="spacingAndGlyphs">REPORT</text>
</g>

<!-- body -->
<rect x="5" y="117" width="1268" height="602" fill="#f9f9fa"/>
<g clip-path="url(#bodyclip)"><g id="bgtex" filter="url(#soft)">
  <rect x="5" y="125" width="130" height="240" fill="#f3f4f5"/>
  <rect x="150" y="130" width="250" height="60" fill="#f4f5f6"/>
  <rect x="440" y="140" width="200" height="80" fill="#f3f4f5"/>
  <rect x="110" y="430" width="140" height="180" fill="#f3f4f6"/>
  <rect x="650" y="140" width="380" height="165" fill="#eef0f2"/>
  <rect x="650" y="380" width="610" height="200" fill="#f2f3f5"/>
  <rect x="660" y="390" width="90" height="150" fill="#eef0f2"/>
</g>
<g fill="#fafbfb" opacity="0.9" filter="url(#soft2)">
  <rect x="640" y="151" width="400" height="5"/>
  <rect x="640" y="195" width="380" height="5"/>
  <rect x="640" y="231" width="360" height="5"/>
</g></g>
<rect x="5" y="0" width="635" height="1.2" fill="#1f2b3c"/>
<rect x="4" y="117" width="1.6" height="603" fill="#9a9a9a"/>
<rect x="1271.6" y="117" width="1.6" height="603" fill="#9a9a9a"/>
<rect x="4" y="718.2" width="1269" height="1.8" fill="#9a9a9a"/>

<!-- dashed separator -->
<line x1="637.2" y1="149" x2="643.8" y2="689" stroke="#6a6a6a" stroke-width="2" stroke-dasharray="8 6"/>

<!-- LEFT -->
<g font-size="33" font-weight="bold" fill="#2d3b66">
  <text x="118.6" y="169.7" textLength="113" lengthAdjust="spacingAndGlyphs">Market</text>
  <text x="240.3" y="169.7" textLength="191.5" lengthAdjust="spacingAndGlyphs">Opportunity</text>
  <text x="439.6" y="169.7" textLength="83.5" lengthAdjust="spacingAndGlyphs">(US$)</text>
</g>

<rect x="25.2" y="184.4" width="2.7" height="183.4" fill="#4a2a80"/>
<g fill="#a0e8fb" stroke="#45287a" stroke-width="2.7">
  <rect x="26.6" y="194.55" width="190.35" height="21.70" rx="3.2"/>
  <rect x="26.6" y="222.95" width="214.25" height="21.70" rx="3.2"/>
  <rect x="26.6" y="251.35" width="251.25" height="21.70" rx="3.2"/>
  <rect x="26.6" y="279.85" width="289.25" height="21.70" rx="3.2"/>
  <rect x="26.6" y="308.25" width="324.95" height="21.70" rx="3.2"/>
  <rect x="26.6" y="336.65" width="359.65" height="21.70" rx="3.2"/>
</g>

<text x="368" y="224.5" font-size="21" font-weight="bold" fill="#262626" textLength="253" lengthAdjust="spacingAndGlyphs">The market is exhibiting a</text>
<text x="366.3" y="269.3" font-size="32" font-weight="bold" fill="#2d3d6a" textLength="214" lengthAdjust="spacingAndGlyphs">CONTINUOUS</text>
<text x="367.2" y="299.4" font-size="21" font-weight="bold" fill="#262626" textLength="116.5" lengthAdjust="spacingAndGlyphs">growth rate</text>

<text x="28" y="405.8" font-size="21" font-weight="bold" fill="#262626" textLength="171.5" lengthAdjust="spacingAndGlyphs">Report Coverage:</text>

<!-- business model -->
<g id="bm" transform="translate(-0.6 0.5)">
<circle cx="316.5" cy="540" r="52" fill="#fafbfc"/>
<circle cx="316.5" cy="540" r="84.6" fill="none" stroke="#8c8c8c" stroke-width="1.3"/>
<path d="M318.15 480.42 A59.6 59.6 0 0 1 357.46 496.71" fill="none" stroke="#1f8ab6" stroke-width="11"/>
<path d="M359.79 499.04 A59.6 59.6 0 0 1 376.08 538.35" fill="none" stroke="#7f9db5" stroke-width="11"/>
<path d="M376.08 541.65 A59.6 59.6 0 0 1 359.79 580.96" fill="none" stroke="#1f4bbd" stroke-width="11"/>
<path d="M357.46 583.29 A59.6 59.6 0 0 1 318.15 599.58" fill="none" stroke="#46dfcb" stroke-width="11"/>
<path d="M314.85 599.58 A59.6 59.6 0 0 1 275.54 583.29" fill="none" stroke="#1f8ab6" stroke-width="11"/>
<path d="M273.21 580.96 A59.6 59.6 0 0 1 256.92 541.65" fill="none" stroke="#7f9db5" stroke-width="11"/>
<path d="M256.92 538.35 A59.6 59.6 0 0 1 273.21 499.04" fill="none" stroke="#1f4bbd" stroke-width="11"/>
<path d="M275.54 496.71 A59.6 59.6 0 0 1 314.85 480.42" fill="none" stroke="#46dfcb" stroke-width="11"/>
<circle cx="348.88" cy="461.84" r="7.6" fill="#ffffff" stroke="#1a7eaa" stroke-width="1.6"/>
<circle cx="348.88" cy="461.84" r="4.8" fill="#1f8ab6"/>
<circle cx="345.78" cy="469.32" r="0.9" fill="#2a2a2a"/>
<circle cx="344.51" cy="472.37" r="0.9" fill="#2a2a2a"/>
<circle cx="343.25" cy="475.42" r="0.9" fill="#2a2a2a"/>
<circle cx="341.99" cy="478.47" r="0.9" fill="#2a2a2a"/>
<circle cx="394.66" cy="507.62" r="7.6" fill="#ffffff" stroke="#8a9096" stroke-width="1.6"/>
<circle cx="394.66" cy="507.62" r="4.8" fill="#8f979d"/>
<circle cx="387.18" cy="510.72" r="0.9" fill="#2a2a2a"/>
<circle cx="384.13" cy="511.99" r="0.9" fill="#2a2a2a"/>
<circle cx="381.08" cy="513.25" r="0.9" fill="#2a2a2a"/>
<circle cx="378.03" cy="514.51" r="0.9" fill="#2a2a2a"/>
<circle cx="394.66" cy="572.38" r="7.6" fill="#ffffff" stroke="#1b2e6e" stroke-width="1.6"/>
<circle cx="394.66" cy="572.38" r="4.8" fill="#1f4bbd"/>
<circle cx="387.18" cy="569.28" r="0.9" fill="#2a2a2a"/>
<circle cx="384.13" cy="568.01" r="0.9" fill="#2a2a2a"/>
<circle cx="381.08" cy="566.75" r="0.9" fill="#2a2a2a"/>
<circle cx="378.03" cy="565.49" r="0.9" fill="#2a2a2a"/>
<circle cx="348.88" cy="618.16" r="7.6" fill="#ffffff" stroke="#3fd6c2" stroke-width="1.6"/>
<circle cx="348.88" cy="618.16" r="4.8" fill="#46dfcb"/>
<circle cx="345.78" cy="610.68" r="0.9" fill="#2a2a2a"/>
<circle cx="344.51" cy="607.63" r="0.9" fill="#2a2a2a"/>
<circle cx="343.25" cy="604.58" r="0.9" fill="#2a2a2a"/>
<circle cx="341.99" cy="601.53" r="0.9" fill="#2a2a2a"/>
<circle cx="284.12" cy="618.16" r="7.6" fill="#ffffff" stroke="#1a7eaa" stroke-width="1.6"/>
<circle cx="284.12" cy="618.16" r="4.8" fill="#1f8ab6"/>
<circle cx="287.22" cy="610.68" r="0.9" fill="#2a2a2a"/>
<circle cx="288.49" cy="607.63" r="0.9" fill="#2a2a2a"/>
<circle cx="289.75" cy="604.58" r="0.9" fill="#2a2a2a"/>
<circle cx="291.01" cy="601.53" r="0.9" fill="#2a2a2a"/>
<circle cx="238.34" cy="572.38" r="7.6" fill="#ffffff" stroke="#8a9096" stroke-width="1.6"/>
<circle cx="238.34" cy="572.38" r="4.8" fill="#8f979d"/>
<circle cx="245.82" cy="569.28" r="0.9" fill="#2a2a2a"/>
<circle cx="248.87" cy="568.01" r="0.9" fill="#2a2a2a"/>
<circle cx="251.92" cy="566.75" r="0.9" fill="#2a2a2a"/>
<circle cx="254.97" cy="565.49" r="0.9" fill="#2a2a2a"/>
<circle cx="238.34" cy="507.62" r="7.6" fill="#ffffff" stroke="#1b2e6e" stroke-width="1.6"/>
<circle cx="238.34" cy="507.62" r="4.8" fill="#1f4bbd"/>
<circle cx="245.82" cy="510.72" r="0.9" fill="#2a2a2a"/>
<circle cx="248.87" cy="511.99" r="0.9" fill="#2a2a2a"/>
<circle cx="251.92" cy="513.25" r="0.9" fill="#2a2a2a"/>
<circle cx="254.97" cy="514.51" r="0.9" fill="#2a2a2a"/>
<circle cx="284.12" cy="461.84" r="7.6" fill="#ffffff" stroke="#3fd6c2" stroke-width="1.6"/>
<circle cx="284.12" cy="461.84" r="4.8" fill="#46dfcb"/>
<circle cx="287.22" cy="469.32" r="0.9" fill="#2a2a2a"/>
<circle cx="288.49" cy="472.37" r="0.9" fill="#2a2a2a"/>
<circle cx="289.75" cy="475.42" r="0.9" fill="#2a2a2a"/>
<circle cx="291.01" cy="478.47" r="0.9" fill="#2a2a2a"/>
</g>
<g fill="#10142e">
  <text x="277.7" y="533.5" font-size="14.5" font-weight="bold" textLength="77.2" lengthAdjust="spacingAndGlyphs">BUSINESS</text>
  <text x="288.5" y="550.6" font-size="14.5" font-weight="bold" textLength="55.6" lengthAdjust="spacingAndGlyphs">MODEL</text>
  <text x="291" y="564.7" font-size="10.6" textLength="49.5" lengthAdjust="spacingAndGlyphs">CONCEPT</text>
</g>
<g fill="#1c1c1c" font-size="9.3" stroke="#1c1c1c" stroke-width="0.12">
  <text x="229.9" y="439.6" textLength="64.6" lengthAdjust="spacingAndGlyphs">MANAGEMENT</text>
  <text x="361.4" y="439.6" textLength="30.2" lengthAdjust="spacingAndGlyphs">COSTS</text>
  <text x="153.3" y="518.75" textLength="63.1" lengthAdjust="spacingAndGlyphs">DISTRIBUTION</text>
  <text x="421.7" y="518.8" textLength="50" lengthAdjust="spacingAndGlyphs">PRODUCTS</text>
  <text x="162.5" y="624.3" textLength="44.3" lengthAdjust="spacingAndGlyphs">SERVICES</text>
  <text x="426.1" y="624.6" textLength="41.7" lengthAdjust="spacingAndGlyphs">REVENUE</text>
  <text x="233.7" y="691.7" textLength="57.3" lengthAdjust="spacingAndGlyphs">CUSTOMERS</text>
  <text x="340.3" y="691.8" textLength="72" lengthAdjust="spacingAndGlyphs">COMPETENCIES</text>
</g>

<!-- RIGHT: ring -->
<circle cx="964" cy="420" r="205.5" fill="none" stroke="#d4dee6" stroke-width="21"/>

<!-- RIGHT: circles -->
<g id="circles">
<clipPath id="cc0"><ellipse cx="964" cy="209.3" rx="72.7" ry="68.3"/></clipPath>
<ellipse cx="964" cy="209.3" rx="74.0" ry="69.6" fill="#ffffff" opacity="0.6"/>
<g clip-path="url(#cc0)">
  <ellipse cx="964" cy="209.3" rx="72.7" ry="68.3" fill="#6bc6ed"/>
  <ellipse cx="967.2" cy="206.10000000000002" rx="72.10000000000001" ry="67.7" fill="#009ee1" filter="url(#blur2)"/>
  <path d="M964.00 143.40 A70.30 65.90 0 0 1 1033.23 197.86" fill="none" stroke="#4cbbea" stroke-width="2" stroke-linecap="round" opacity="0.5" filter="url(#blur1)"/>
</g>
<ellipse cx="964" cy="209.3" rx="72.7" ry="68.3" fill="none" stroke="#0076a8" stroke-width="0.9" opacity="0.8"/>
<clipPath id="cc1"><ellipse cx="1146.4" cy="314.7" rx="68" ry="68"/></clipPath>
<ellipse cx="1146.4" cy="314.7" rx="69.3" ry="69.3" fill="#ffffff" opacity="0.6"/>
<g clip-path="url(#cc1)">
  <ellipse cx="1146.4" cy="314.7" rx="68" ry="68" fill="#769aa5"/>
  <ellipse cx="1149.6000000000001" cy="311.5" rx="67.4" ry="67.4" fill="#145165" filter="url(#blur2)"/>
  <path d="M1146.40 249.10 A65.60 65.60 0 0 1 1211.00 303.31" fill="none" stroke="#5a8593" stroke-width="2" stroke-linecap="round" opacity="0.5" filter="url(#blur1)"/>
</g>
<ellipse cx="1146.4" cy="314.7" rx="68" ry="68" fill="none" stroke="#0f3c4b" stroke-width="0.9" opacity="0.8"/>
<clipPath id="cc2"><ellipse cx="781.3" cy="314.5" rx="68" ry="68"/></clipPath>
<ellipse cx="781.3" cy="314.5" rx="69.3" ry="69.3" fill="#ffffff" opacity="0.6"/>
<g clip-path="url(#cc2)">
  <ellipse cx="781.3" cy="314.5" rx="68" ry="68" fill="#a4bfd9"/>
  <ellipse cx="784.5" cy="311.3" rx="67.4" ry="67.4" fill="#6391bf" filter="url(#blur2)"/>
  <path d="M781.30 248.90 A65.60 65.60 0 0 1 845.90 303.11" fill="none" stroke="#91b2d2" stroke-width="2" stroke-linecap="round" opacity="0.5" filter="url(#blur1)"/>
</g>
<ellipse cx="781.3" cy="314.5" rx="68" ry="68" fill="none" stroke="#4a6c8f" stroke-width="0.9" opacity="0.8"/>
<clipPath id="cc3"><ellipse cx="781.5" cy="526" rx="68" ry="68"/></clipPath>
<ellipse cx="781.5" cy="526" rx="69.3" ry="69.3" fill="#ffffff" opacity="0.6"/>
<g clip-path="url(#cc3)">
  <ellipse cx="781.5" cy="526" rx="68" ry="68" fill="#cdbb93"/>
  <ellipse cx="784.7" cy="522.8" rx="67.4" ry="67.4" fill="#a98a46" filter="url(#blur2)"/>
  <path d="M781.50 460.40 A65.60 65.60 0 0 1 846.10 514.61" fill="none" stroke="#c2ad7d" stroke-width="2" stroke-linecap="round" opacity="0.5" filter="url(#blur1)"/>
</g>
<ellipse cx="781.5" cy="526" rx="68" ry="68" fill="none" stroke="#7e6734" stroke-width="0.9" opacity="0.8"/>
<clipPath id="cc4"><ellipse cx="1146.5" cy="526" rx="68" ry="68"/></clipPath>
<ellipse cx="1146.5" cy="526" rx="69.3" ry="69.3" fill="#ffffff" opacity="0.6"/>
<g clip-path="url(#cc4)">
  <ellipse cx="1146.5" cy="526" rx="68" ry="68" fill="#c08ea6"/>
  <ellipse cx="1149.7" cy="522.8" rx="67.4" ry="67.4" fill="#943d66" filter="url(#blur2)"/>
  <path d="M1146.50 460.40 A65.60 65.60 0 0 1 1211.10 514.61" fill="none" stroke="#b47793" stroke-width="2" stroke-linecap="round" opacity="0.5" filter="url(#blur1)"/>
</g>
<ellipse cx="1146.5" cy="526" rx="68" ry="68" fill="none" stroke="#6f2d4c" stroke-width="0.9" opacity="0.8"/>
<clipPath id="cc5"><ellipse cx="964" cy="631" rx="68" ry="68"/></clipPath>
<ellipse cx="964" cy="631" rx="69.3" ry="69.3" fill="#ffffff" opacity="0.6"/>
<g clip-path="url(#cc5)">
  <ellipse cx="964" cy="631" rx="68" ry="68" fill="#c3a3c4"/>
  <ellipse cx="967.2" cy="627.8" rx="67.4" ry="67.4" fill="#99619a" filter="url(#blur2)"/>
  <path d="M964.00 565.40 A65.60 65.60 0 0 1 1028.60 619.61" fill="none" stroke="#b790b8" stroke-width="2" stroke-linecap="round" opacity="0.5" filter="url(#blur1)"/>
</g>
<ellipse cx="964" cy="631" rx="68" ry="68" fill="none" stroke="#724873" stroke-width="0.9" opacity="0.8"/>
<clipPath id="cc6"><ellipse cx="964.2" cy="417" rx="96.5" ry="93.2"/></clipPath>
<ellipse cx="964.2" cy="417" rx="97.8" ry="94.5" fill="#ffffff" opacity="0.6"/>
<g clip-path="url(#cc6)">
  <ellipse cx="964.2" cy="417" rx="96.5" ry="93.2" fill="#c4eefb"/>
  <ellipse cx="967.4000000000001" cy="413.8" rx="95.9" ry="92.60000000000001" fill="#9ae3f9" filter="url(#blur2)"/>
  <path d="M964.20 326.20 A94.10 90.80 0 0 1 1056.87 401.23" fill="none" stroke="#b8ebfa" stroke-width="2" stroke-linecap="round" opacity="0.5" filter="url(#blur1)"/>
</g>
<ellipse cx="964.2" cy="417" rx="96.5" ry="93.2" fill="none" stroke="#73aaba" stroke-width="0.9" opacity="0.8"/>
</g>
<g font-weight="bold" font-size="15" fill="#eefbff" text-anchor="start">
  <text x="949.5" y="204.8" textLength="28.4" lengthAdjust="spacingAndGlyphs">Risk</text>
  <text x="917.3" y="223.7" textLength="94.5" lengthAdjust="spacingAndGlyphs">Management</text>
  <text x="1112.7" y="319.6" textLength="66.7" lengthAdjust="spacingAndGlyphs">Valuation</text>
  <text x="748.4" y="299.4" textLength="64.9" lengthAdjust="spacingAndGlyphs">Informed</text>
  <text x="751.5" y="319" textLength="59.5" lengthAdjust="spacingAndGlyphs">Decision</text>
  <text x="755.5" y="338.3" textLength="53.8" lengthAdjust="spacingAndGlyphs">Making</text>
  <text x="756.7" y="520.6" textLength="50" lengthAdjust="spacingAndGlyphs">Raising</text>
  <text x="758.2" y="539.4" textLength="48" lengthAdjust="spacingAndGlyphs">Capital</text>
  <text x="1101.7" y="520.6" textLength="88.9" lengthAdjust="spacingAndGlyphs">Mergers and</text>
  <text x="1103.2" y="539.4" textLength="87.4" lengthAdjust="spacingAndGlyphs">Acquisitions</text>
  <text x="928.4" y="616.7" textLength="72.7" lengthAdjust="spacingAndGlyphs">Budgeting</text>
  <text x="950.7" y="635.6" textLength="26" lengthAdjust="spacingAndGlyphs">and</text>
  <text x="923.3" y="654.4" textLength="81.1" lengthAdjust="spacingAndGlyphs">Forecasting</text>
</g>
<g font-weight="bold" font-size="24" fill="#f4fdff">
  <text x="925.2" y="413.1" textLength="80.3" lengthAdjust="spacingAndGlyphs">Uses of</text>
  <text x="902.3" y="441.9" textLength="123.7" lengthAdjust="spacingAndGlyphs">Cost Model</text>
</g>

<!-- icons -->
<defs>
  <linearGradient id="gearg" x1="0" y1="0" x2="1" y2="0">
    <stop offset="0" stop-color="#5aa0b4"/>
    <stop offset="0.45" stop-color="#7f96a4"/>
    <stop offset="1" stop-color="#8b8f93"/>
  </linearGradient>
</defs>
<!-- management -->
<g fill="none" stroke="#3fd8c1" stroke-width="3.9">
  <path d="M244.7 407 A17.8 17.8 0 0 1 256 386.2"/>
  <path d="M269 387 A17.8 17.8 0 0 1 278.6 409.5"/>
  <path d="M275 415.5 A17.8 17.8 0 0 1 250 416"/>
</g>
<g fill="#3fd8c1">
  <path d="M254.5 380.8 L263.5 385.5 L255.5 392Z"/>
  <path d="M282.8 405 L279.2 415.8 L271.8 408.8Z"/>
  <path d="M242.8 412.5 L252.5 410.5 L250 419.5Z"/>
  <path fill="none" stroke="#3fd8c1" stroke-width="2" d="M258.6 408.2 V406 Q255.2 403.8 255.2 400.6 A6.5 6.5 0 0 1 268.2 400.6 Q268.2 403.8 264.8 406 V408.2Z"/>
  <rect x="258.5" y="407.6" width="6.4" height="4.8" />
</g>
<!-- costs -->
<g fill="#1b8bbf">
  <path d="M369 387 H383.8 L381.6 394.3 H371.2Z"/>
  <path d="M370.2 397.4 H381 C386 403 392 411 394.3 418 C395.6 422 393.5 423.4 390 423.4 H362.5 C359 423.4 356.8 422 358.2 418 C360.5 411 365.5 403 370.2 397.4Z"/>
</g>
<text x="375.9" y="416.8" font-size="15.5" font-weight="bold" fill="#ffffff" text-anchor="middle">$</text>
<!-- products -->
<g>
  <rect x="428" y="471.7" width="14.6" height="5.8" fill="#8c9196"/>
  <rect x="450.3" y="471.7" width="15.1" height="5.8" fill="#8c9196"/>
  <path d="M428 480 H442.6 V485.3 H450.3 V480 H465.4 V499.8 Q465.4 502.8 462.4 502.8 H431 Q428 502.8 428 499.8Z" fill="#5b94c9"/>
  <path d="M460.5 480 H465.4 V499.8 Q465.4 502.8 462.4 502.8 H449 V497.5 H460.5Z" fill="#8c9196"/>
  <rect x="451" y="491.3" width="9" height="6.2" fill="#ffffff"/>
</g>
<!-- distribution -->
<g fill="#2146bf" stroke="#2146bf">
  <g stroke-width="2">
    <line x1="184.6" y1="485.2" x2="176.8" y2="472.7"/>
    <line x1="184.6" y1="485.2" x2="200.7" y2="485.2"/>
    <line x1="184.6" y1="485.2" x2="176.8" y2="497.7"/>
  </g>
  <g stroke="none">
    <circle cx="176.8" cy="472.7" r="4.6"/><circle cx="191.9" cy="472.7" r="4.6"/>
    <circle cx="168.4" cy="485.2" r="4.6"/><circle cx="200.7" cy="485.2" r="4.6"/>
    <circle cx="176.8" cy="497.7" r="4.6"/><circle cx="191.9" cy="497.7" r="4.6"/>
  </g>
  <circle cx="184.6" cy="485.2" r="4.9" fill="#f8f9fa" stroke-width="2.5"/>
</g>
<!-- services -->
<path d="M180.06 581.59 L181.64 578.51 L187.05 580.75 L185.99 584.05 L188.05 586.11 L191.35 585.05 L193.59 590.46 L190.51 592.04 L190.51 594.96 L193.59 596.54 L191.35 601.95 L188.05 600.89 L185.99 602.95 L187.05 606.25 L181.64 608.49 L180.06 605.41 L177.14 605.41 L175.56 608.49 L170.15 606.25 L171.21 602.95 L169.15 600.89 L165.85 601.95 L163.61 596.54 L166.69 594.96 L166.69 592.04 L163.61 590.46 L165.85 585.05 L169.15 586.11 L171.21 584.05 L170.15 580.75 L175.56 578.51 L177.14 581.59Z M185.80 593.50 A7.2 7.2 0 1 0 171.40 593.50 A7.2 7.2 0 1 0 185.80 593.50Z" fill="url(#gearg)" fill-rule="evenodd"/>
<path d="M195.61 568.33 L195.78 566.04 L199.02 566.04 L199.19 568.33 L201.07 569.10 L202.81 567.61 L205.09 569.89 L203.60 571.63 L204.37 573.51 L206.66 573.68 L206.66 576.92 L204.37 577.09 L203.60 578.97 L205.09 580.71 L202.81 582.99 L201.07 581.50 L199.19 582.27 L199.02 584.56 L195.78 584.56 L195.61 582.27 L193.73 581.50 L191.99 582.99 L189.71 580.71 L191.20 578.97 L190.43 577.09 L188.14 576.92 L188.14 573.68 L190.43 573.51 L191.20 571.63 L189.71 569.89 L191.99 567.61 L193.73 569.10Z M201.10 575.30 A3.7 3.7 0 1 0 193.70 575.30 A3.7 3.7 0 1 0 201.10 575.30Z" fill="#8b8f93" fill-rule="evenodd"/>
<!-- revenue -->
<path d="M424.1 589.3 H428.6 L432.2 592.2 L449.6 597.2 L451.2 595.8 L450.4 592.5 L453 590.9 L456.2 591.4 L459.3 590.6 L462.4 591.4 L465.5 590.8 L468.6 591.6 Q469.8 592.8 469.3 594.6 L451.7 607.3 L447.4 608.6 L424.1 608.8Z" fill="#1f46c2"/>
<path d="M439.3 600.7 H449.3 Q453.1 600.7 452.9 597.2 Q452.7 594.6 450.6 593.6" fill="none" stroke="#f7f8fb" stroke-width="1.7"/>
<g fill="none" stroke="#1f3590" stroke-width="2.1">
  <circle cx="445.7" cy="584.9" r="4.1"/>
  <circle cx="453.3" cy="575.8" r="3"/>
</g>
<!-- customers -->
<g fill="#1a88be">
  <circle cx="262.4" cy="649.4" r="9.4"/>
  <path d="M244 675.7 V669 Q244 662 252 662 H273 Q281 662 281 669 V675.7Z"/>
</g>
<path d="M257.8 662.5 H267.2 L264 667.8 L266 675.7 H259 L261 667.8Z" fill="#f9fafa"/>
<!-- competencies -->
<g fill="#42dcc2">
  <rect x="364.5" y="639.1" width="23.6" height="15.3" rx="0.8"/>
  <rect x="353.8" y="660.5" width="19.8" height="15.2" rx="0.8"/>
  <rect x="378.2" y="660.5" width="20.6" height="15.2" rx="0.8"/>
  <rect x="375.2" y="654" width="2.2" height="4"/>
  <rect x="363" y="656.7" width="26.2" height="2.2"/>
  <rect x="363" y="656.7" width="2.2" height="4"/>
  <rect x="387" y="656.7" width="2.2" height="4"/>
</g>
<g fill="#f9fafa">
  <rect x="368.3" y="643.7" width="16.7" height="6.9"/>
  <rect x="357.6" y="665" width="12.2" height="6.9"/>
  <rect x="382" y="665" width="13" height="6.9"/>
</g>
<!-- logo -->
<g fill="#1ba1dd">
  <circle cx="1087.6" cy="664.2" r="3.2"/>
  <path d="M1083.2 679.5 H1091.6 V701.7 H1085.8 V685 H1083.2Z"/>
</g>
<g fill="none" stroke="#1ba1dd" stroke-width="5.8">
  <path d="M1099.4 701.7 V690.4 A8.75 8.75 0 0 1 1116.9 690.4 V701.7 M1116.9 690.4 A8.75 8.75 0 0 1 1134.4 690.4 V701.7"/>
  <circle cx="1152.6" cy="690.6" r="8.2"/>
  <path d="M1166.4 679.5 V701.7"/>
  <path d="M1175.6 701.7 V691 A8.3 8.3 0 0 1 1183.6 682.4"/>
  <path d="M1201 684.2 A8.2 8.2 0 1 0 1201 697"/>
</g>
<rect x="1205.4" y="678.7" width="1.8" height="22.4" fill="#111"/>
<g fill="#1a1a1a" font-weight="bold" font-size="8.2">
  <text x="1213" y="688" textLength="46" lengthAdjust="spacingAndGlyphs">IMPACTFUL</text>
  <text x="1213" y="697.3" textLength="37.8" lengthAdjust="spacingAndGlyphs">INSIGHTS</text>
</g>

</svg>
</body></html>
